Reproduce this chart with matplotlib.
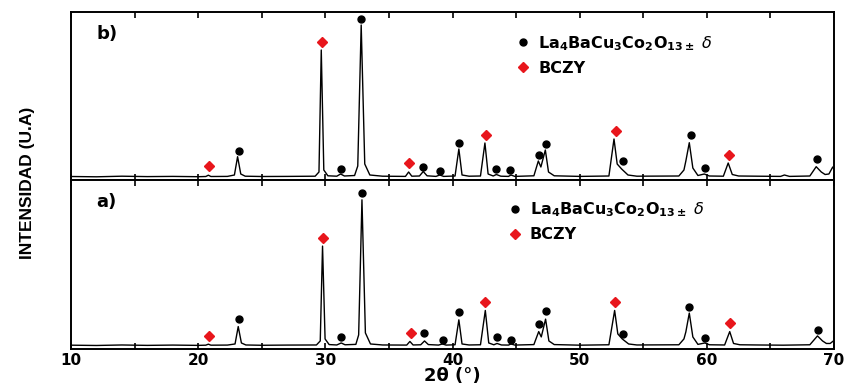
import numpy as np
import matplotlib
matplotlib.use("Agg")
import matplotlib.pyplot as plt
from matplotlib.ticker import MultipleLocator

# XRD traces: (2theta, intensity) vertices, arbitrary units
trace_b = [(10, 3.5), (12, 3.2), (14, 3.8), (16, 3.4), (18, 3.6), (20, 3.3), (20.6, 3.5), (20.8, 4.8),
           (21.0, 3.5), (22.3, 3.6), (22.85, 5), (23.1, 23.3), (23.35, 6), (23.7, 3.8), (25, 3.5), (27, 3.6),
           (29.2, 3.8), (29.5, 8), (29.68, 130), (29.88, 10), (30.2, 4.2), (30.9, 3.8), (31.2, 6), (31.5, 4),
           (32.3, 4.5), (32.55, 14), (32.82, 155), (33.1, 16), (33.5, 5), (34.5, 3.8), (36.3, 3.6), (36.55, 8),
           (36.8, 3.8), (37.4, 4), (37.7, 8.5), (38.0, 4.2), (38.7, 3.6), (39.0, 5), (39.3, 3.6), (40.2, 4),
           (40.5, 31), (40.75, 5), (41.3, 3.8), (42.2, 4), (42.55, 37), (42.8, 6), (43.2, 4), (43.45, 5.5),
           (43.8, 3.8), (44.4, 3.6), (44.6, 5), (44.9, 3.6), (46.4, 4.2), (46.75, 19), (46.95, 13), (47.3, 30),
           (47.55, 8), (48.0, 4.2), (50, 3.6), (52.3, 4), (52.7, 41), (52.95, 16), (53.3, 11), (53.8, 5),
           (54.5, 3.8), (57.8, 4), (58.2, 10), (58.35, 19), (58.62, 37.3), (58.9, 12), (59.3, 4.5), (59.8, 6),
           (60.2, 4), (61.3, 3.8), (61.68, 17), (62.0, 5.5), (62.5, 4), (64, 3.8), (65.8, 3.6), (66.1, 5),
           (66.5, 3.6), (68.1, 4), (68.6, 13.3), (69.0, 8), (69.3, 5.5), (69.6, 6), (69.9, 13), (70, 11)]

trace_a = [(10, 3.8), (12, 3.5), (14, 4.0), (16, 3.6), (18, 3.9), (20, 3.6), (20.6, 3.8), (20.8, 4.8),
           (21.0, 3.8), (22.3, 3.9), (22.9, 5), (23.15, 22.3), (23.4, 6), (23.75, 4.0), (25, 3.7), (27, 3.9),
           (29.3, 4.0), (29.6, 8), (29.78, 102.3), (29.98, 10), (30.3, 4.4), (30.9, 4.0), (31.25, 6),
           (31.55, 4.2), (32.4, 4.6), (32.62, 14), (32.88, 148.3), (33.15, 16), (33.55, 5), (34.5, 4.0),
           (36.4, 3.9), (36.65, 7.5), (36.9, 4.0), (37.5, 4.2), (37.8, 8), (38.1, 4.4), (38.9, 3.9), (39.2, 5),
           (39.5, 3.9), (40.2, 4.2), (40.5, 29), (40.75, 5), (41.3, 4.0), (42.2, 4.2), (42.58, 38.3), (42.85, 6),
           (43.25, 4.2), (43.5, 5.5), (43.85, 4.0), (44.4, 3.9), (44.6, 5), (44.9, 3.9), (46.4, 4.4),
           (46.78, 17.3), (46.98, 12), (47.32, 29.7), (47.58, 8), (48.0, 4.4), (50, 3.8), (52.3, 4.2),
           (52.75, 38.3), (53.0, 15), (53.35, 10), (53.85, 5), (54.5, 4.0), (57.8, 4.2), (58.2, 10),
           (58.35, 17), (58.62, 35.7), (58.9, 12), (59.3, 4.6), (59.85, 6), (60.2, 4.2), (61.4, 4.0),
           (61.8, 17.3), (62.1, 5.5), (62.6, 4.2), (64, 4.0), (66, 3.8), (68.1, 4.2), (68.7, 13), (69.1, 8),
           (69.4, 5.5), (69.7, 5.5), (69.95, 8), (70, 7)]

# phase markers (2theta, height)
perov_b = [(23.21, 29), (31.23, 11), (32.80, 161), (37.68, 13), (39.02, 9), (40.51, 37), (43.42, 11),
           (44.52, 10), (46.80, 25), (47.35, 36), (53.41, 19), (58.75, 45), (59.86, 12), (68.66, 21)]
bczy_b = [(20.85, 14), (29.74, 138), (36.58, 17), (42.63, 45), (52.86, 49), (61.74, 25)]

perov_a = [(23.21, 29.7), (31.23, 12.3), (32.88, 154.7), (37.76, 15.7), (39.25, 8.7), (40.51, 36.3),
           (43.50, 12), (44.60, 9), (46.80, 25), (47.35, 37.3), (53.41, 15), (58.60, 41.3), (59.86, 10.7),
           (68.74, 18.7)]
bczy_a = [(20.85, 12.7), (29.82, 110.7), (36.74, 16), (42.56, 47), (52.78, 46.3), (61.82, 25.7)]

plt.rcParams['mathtext.fontset'] = 'dejavusans'

W, H = 845, 390
fig = plt.figure(figsize=(W / 100, H / 100), dpi=100)
left, right = 71 / W, 834 / W
ax_b = fig.add_axes([left, 1 - 180 / H, right - left, 168 / H])
ax_a = fig.add_axes([left, 1 - 349 / H, right - left, 169 / H])

perov_label = r'$\mathbf{La_4BaCu_3Co_2O_{13\pm}}\ \delta$'
red = '#e8161c'

panels = [(ax_b, trace_b, perov_b, bczy_b, 'b)', (0.5735, 0.907)),
          (ax_a, trace_a, perov_a, bczy_a, 'a)', (0.5625, 0.915))]

for ax, trace, perov, bczy, tag, leg_pos in panels:
    tt, inten = zip(*trace)
    ax.plot(tt, inten, color='black', lw=1.0)
    px, py = zip(*perov)
    h1, = ax.plot(px, py, 'o', color='black', ms=5, ls='none')
    dx, dy = zip(*bczy)
    h2, = ax.plot(dx, dy, 'D', color=red, ms=5, ls='none')
    ax.set_xlim(10, 70)
    ax.set_ylim(0, 168)
    ax.set_yticks([])
    ax.xaxis.set_major_locator(MultipleLocator(10))
    ax.xaxis.set_minor_locator(MultipleLocator(5))
    ax.tick_params(axis='x', which='both', direction='in', top=True, bottom=True, length=4, width=1.2)
    for s in ax.spines.values():
        s.set_linewidth(1.4)
    ax.text(0.033, 0.87, tag, transform=ax.transAxes, fontsize=13, fontweight='bold',
            family='DejaVu Sans', va='center')
    ax.legend([h1, h2], [perov_label, 'BCZY'], loc='upper left', bbox_to_anchor=leg_pos,
              frameon=False, handletextpad=0.45, handlelength=1.0, labelspacing=0.5,
              borderaxespad=0, prop={'family': 'DejaVu Sans', 'weight': 'bold', 'size': 11.5})

ax_b.tick_params(axis='x', labelbottom=False)
for lab in ax_a.get_xticklabels():
    lab.set_fontweight('bold')
    lab.set_fontsize(11)
    lab.set_family('DejaVu Sans')
ax_a.tick_params(axis='x', pad=3)
ax_a.set_xlabel('2θ (°)', fontsize=13, fontweight='bold', family='DejaVu Sans', labelpad=-1)

fig.text(28 / W, 1 - 183 / H, 'INTENSIDAD (U.A)', rotation=90, ha='center', va='center',
         fontsize=12.5, fontweight='bold', family=['Liberation Sans Narrow', 'Liberation Sans'])

fig.savefig('out.png', dpi=100)
